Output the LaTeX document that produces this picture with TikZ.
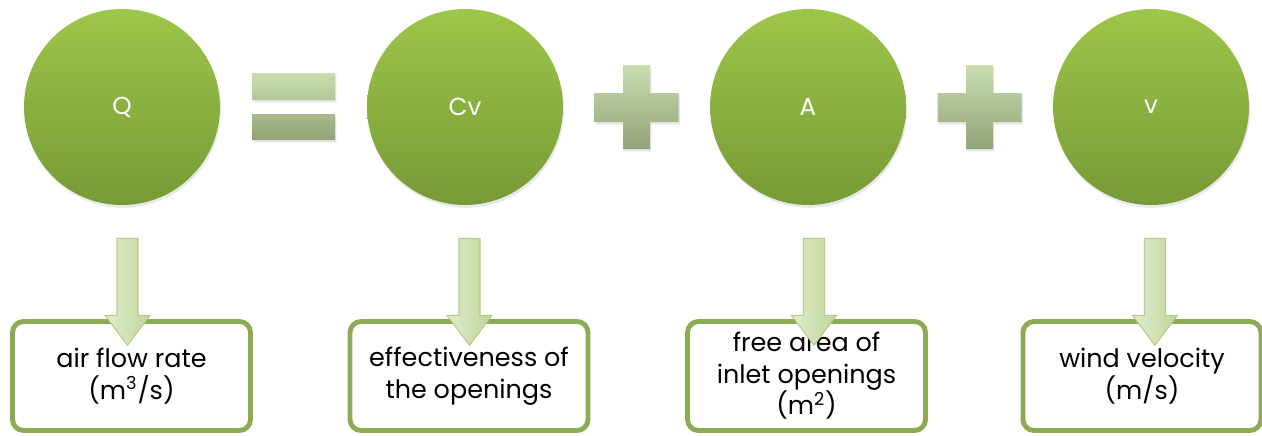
\documentclass[tikz,border=0pt]{standalone}
\usepackage{fontspec}
\setmainfont{Poppins}
\usetikzlibrary{shadows,positioning}

\definecolor{ballhi}{HTML}{9DC64A}
\definecolor{balllo}{HTML}{769A35}
\definecolor{boxline}{HTML}{8CAB55}
\definecolor{signhi}{HTML}{C9DDAE}
\definecolor{signlo}{HTML}{92A475}
\definecolor{arrhi}{HTML}{F1F6E8}
\definecolor{arrmid}{HTML}{E2ECD0}
\definecolor{arrlo}{HTML}{BFD698}
\definecolor{arrline}{HTML}{B3CD86}

\tikzset{
  ball/.style={circle, minimum size=3.92cm, inner sep=0pt, top color=ballhi, bottom color=balllo,
    text=white, font=\fontsize{14}{16}\selectfont,
    drop shadow={opacity=0.18, shadow xshift=0.6pt, shadow yshift=-1.6pt}},
  infobox/.style={draw=boxline, line width=2.8pt, rounded corners=0.22cm, fill=white,
    minimum width=4.76cm, minimum height=2.18cm, align=center, inner sep=2pt,
    font=\fontsize{14.5}{18}\selectfont},
  sign/.style={top color=signhi, bottom color=signlo,
    drop shadow={opacity=0.2, shadow xshift=0.8pt, shadow yshift=-1.4pt}},
  downarrow/.style={draw=arrline, line width=0.6pt, left color=arrmid, middle color=arrhi, right color=arrlo}
}

\begin{document}
\begin{tikzpicture}[x=0.02cm, y=-0.02cm]
  \useasboundingbox (0,0) rectangle (1262,436);
  \node[ball] (q)  at (122,107)  {Q};
  \node[ball] (cv) at (465,107)  {Cv};
  \node[ball] (a)  at (808,107)  {A};
  \node[ball] (v)  at (1151,107) {v};
  \shade[sign] (252,73) rectangle (335,100) (252,114) rectangle (335,140);
  \foreach \c in {636.5,979.5}
    \shade[sign] (\c-13.5,65) -- (\c+13.5,65) -- (\c+13.5,93) -- (\c+42,93) -- (\c+42,122)
      -- (\c+13.5,122) -- (\c+13.5,149) -- (\c-13.5,149) -- (\c-13.5,122) -- (\c-42,122)
      -- (\c-42,93) -- (\c-13.5,93) -- cycle;
  \node[infobox] (qbox)  at (131.5,376) {air flow rate\\(m\textsuperscript{3}/s)};
  \node[infobox] (cvbox) at (469,376)   {effectiveness of\\the openings};
  \node[infobox] (abox)  at (806.5,376) {free area of\\inlet openings\\(m\textsuperscript{2})};
  \node[infobox] (vbox)  at (1142,376)  {wind velocity\\(m/s)};
  \foreach \n/\dx in {q/5.5,cv/4.5,a/6,v/4}{
    \begin{scope}[shift={(\n.south)}]
      \shade[downarrow] (\dx-10.5,33) -- (\dx+10.5,33) -- (\dx+10.5,110) -- (\dx+22.5,110)
        -- (\dx,140) -- (\dx-22.5,110) -- (\dx-10.5,110) -- cycle;
    \end{scope}
  }
\end{tikzpicture}
\end{document}
